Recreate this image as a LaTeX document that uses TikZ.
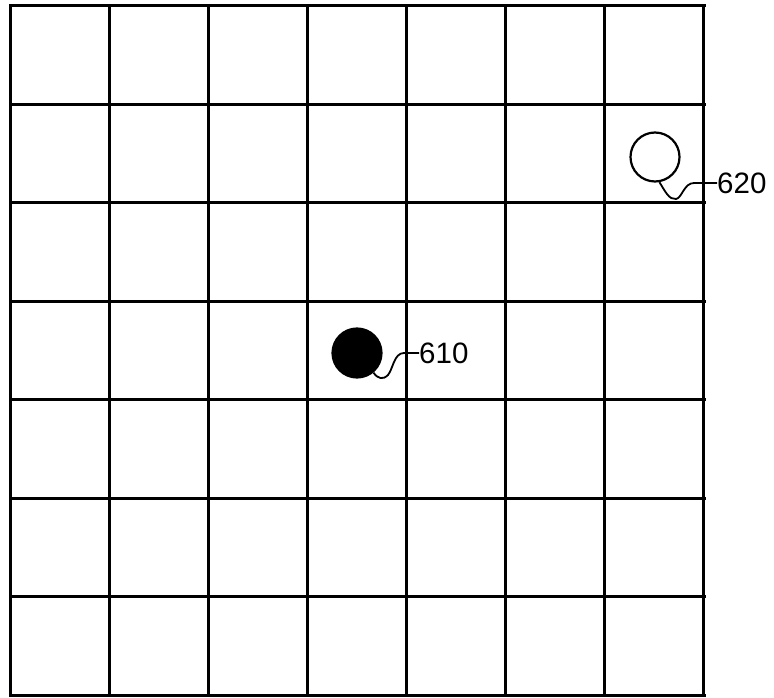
\documentclass[tikz,border=0pt]{standalone}
\usepackage{fontspec}
\setmainfont{Liberation Sans}
\usepackage{tikz}
\usetikzlibrary{positioning}

\begin{document}
\begin{tikzpicture}[
  x=1pt, y=1pt,
  font=\fontsize{29.5}{32}\selectfont,
  gridline/.style={line width=3pt, black, line cap=rect},
  hollow/.style={circle, draw=black, line width=2.2pt, fill=white, minimum size=49pt, inner sep=0pt},
  filled/.style={circle, draw=black, line width=2.2pt, fill=black, minimum size=49pt, inner sep=0pt},
  lead/.style={line width=1.8pt, black},
  lbl/.style={inner sep=0pt, anchor=west},
]
\useasboundingbox (0,0) rectangle (774,697);

% --- Rejilla 7x7 ---
\foreach \i in {0,...,7} {
  \draw[gridline] ({10+99.14*\i},2) -- ({10+99.14*\i},691);
  \draw[gridline] (10,{691-98.43*\i}) -- (704,{691-98.43*\i});
}

% --- Marcas ---
\node[filled] (p610) at (357,344) {};
\node[hollow] (p620) at (655,540) {};

% --- Etiquetas ---
\node[lbl] (l610) at (419,344) {610};
\node[lbl] (l620) at (717,514) {620};

% --- Lineas de referencia ---
\draw[lead] (p610.-50) .. controls (378,318) and (383,317) .. (388,322)
  .. controls (393,328) and (394,344) .. (404,344) -- (l610.west);
\draw[lead] (p620.-80) .. controls (665,506) and (669,497) .. (676,498)
  .. controls (682,499) and (684,514) .. (694,514) -- (l620.west);

\end{tikzpicture}
\end{document}
